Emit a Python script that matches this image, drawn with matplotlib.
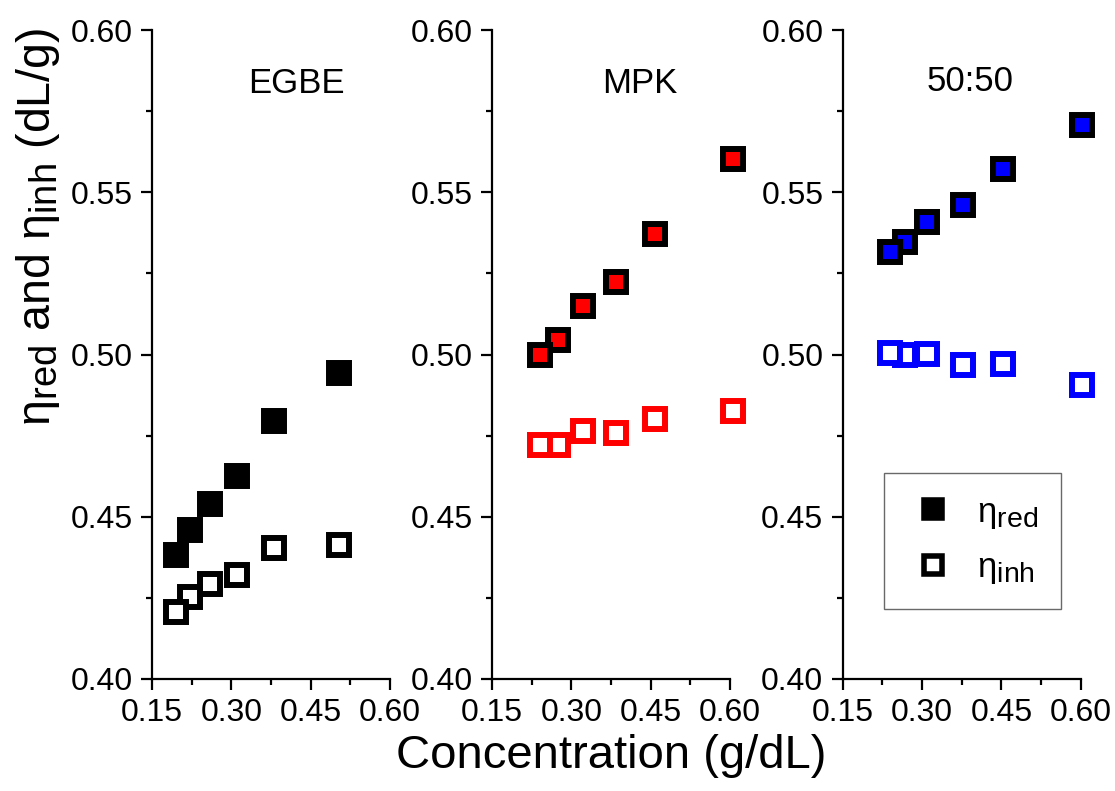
import matplotlib
matplotlib.use("Agg")
import matplotlib.pyplot as plt
from matplotlib.lines import Line2D
from matplotlib.ticker import MultipleLocator, FormatStrFormatter
try:
    import matplotlib._mathtext as _mt
    _mt.SHRINK_FACTOR = 0.82
except Exception:
    pass

plt.rcParams['font.family'] = ['Liberation Sans', 'DejaVu Sans']
plt.rcParams['mathtext.fontset'] = 'custom'
plt.rcParams['mathtext.rm'] = 'Liberation Sans'
plt.rcParams['mathtext.it'] = 'Liberation Sans'
plt.rcParams['mathtext.bf'] = 'Liberation Sans:bold'
plt.rcParams['mathtext.default'] = 'regular'

# ---- data ----
panel_titles = ["EGBE", "MPK", "50:50"]
egbe_conc = [0.196, 0.221, 0.260, 0.311, 0.380, 0.503]
egbe_red = [0.4383, 0.4458, 0.4540, 0.4626, 0.4794, 0.4943]
egbe_inh = [0.4206, 0.4254, 0.4292, 0.4321, 0.4405, 0.4413]
mpk_conc = [0.240, 0.275, 0.322, 0.385, 0.458, 0.605]
mpk_red = [0.4998, 0.5044, 0.5149, 0.5223, 0.5370, 0.5602]
mpk_inh = [0.4720, 0.4722, 0.4765, 0.4759, 0.4802, 0.4827]
mix_conc = [0.239, 0.267, 0.310, 0.378, 0.453, 0.602]
mix_red = [0.5315, 0.5348, 0.5409, 0.5462, 0.5572, 0.5707]
mix_inh = [0.5005, 0.4999, 0.5003, 0.4967, 0.4970, 0.4906]
x_ticks = [0.15, 0.30, 0.45, 0.60]
y_ticks = [0.40, 0.45, 0.50, 0.55, 0.60]

series = [
    (egbe_conc, egbe_red, egbe_inh, 'black', 'black'),
    (mpk_conc, mpk_red, mpk_inh, '#FF0000', '#FF0000'),
    (mix_conc, mix_red, mix_inh, '#0000FF', '#0000FF'),
]

W, H = 1115, 791
fig = plt.figure(figsize=(W / 100, H / 100), dpi=100)

lefts = [152, 492, 842.7]
ax_w = 238
top, bottom = 30, 679
title_pos = [(0.605, 0.903), (0.622, 0.903), (0.537, 0.906)]

MS = 15.1
MEW = 4.3

axes = []
for i, (left, (conc, red, inh, face, open_col)) in enumerate(zip(lefts, series)):
    ax = fig.add_axes([left / W, (H - bottom) / H, ax_w / W, (bottom - top) / H])
    axes.append(ax)
    # open squares (inh)
    ax.plot(conc[::-1], inh[::-1], linestyle='none', marker='s', ms=MS, mew=MEW,
            mfc='white', mec=open_col, clip_on=False, zorder=3)
    # filled squares (red)
    ax.plot(conc[::-1], red[::-1], linestyle='none', marker='s', ms=MS, mew=MEW,
            mfc=face, mec='black', clip_on=False, zorder=3)
    ax.set_xlim(0.15, 0.60)
    ax.set_ylim(0.40, 0.60)
    ax.set_xticks(x_ticks)
    ax.set_yticks(y_ticks)
    ax.xaxis.set_minor_locator(MultipleLocator(0.075))
    ax.yaxis.set_minor_locator(MultipleLocator(0.025))
    ax.xaxis.set_major_formatter(FormatStrFormatter('%.2f'))
    ax.yaxis.set_major_formatter(FormatStrFormatter('%.2f'))
    for s in ['top', 'right']:
        ax.spines[s].set_visible(False)
    for s in ['left', 'bottom']:
        ax.spines[s].set_linewidth(1.6)
    ax.tick_params(which='major', direction='out', length=8, width=1.6,
                   labelsize=23, pad=6)
    ax.tick_params(which='minor', direction='out', length=4, width=1.6)
    ax.text(title_pos[i][0], title_pos[i][1], panel_titles[i], transform=ax.transAxes,
            ha='center', va='baseline', fontsize=25)

handles = [
    Line2D([], [], linestyle='none', marker='s', ms=13.5, mew=4.0, mfc='black', mec='black'),
    Line2D([], [], linestyle='none', marker='s', ms=13.5, mew=4.0, mfc='white', mec='black'),
]
leg = axes[2].legend(handles, [r'$\eta_{red}$', r'$\eta_{inh}$'],
                     loc='lower left', bbox_to_anchor=(0.174, 0.108),
                     fontsize=25, frameon=True, fancybox=False, borderpad=0.65,
                     handlelength=1.52, handletextpad=0.51, labelspacing=0.6,
                     borderaxespad=0, numpoints=1)
leg.get_frame().set_edgecolor('#444444')
leg.get_frame().set_linewidth(1.0)

fig.text(38 / W, 1 - 227 / H, r'$\eta_{red}$ and $\eta_{inh}$ (dL/g)', rotation=90,
         ha='center', va='center', fontsize=33.5)
fig.text(611 / W, 1 - 768 / H, 'Concentration (g/dL)', ha='center', va='baseline',
         fontsize=34)

fig.savefig('out.png', dpi=100)
